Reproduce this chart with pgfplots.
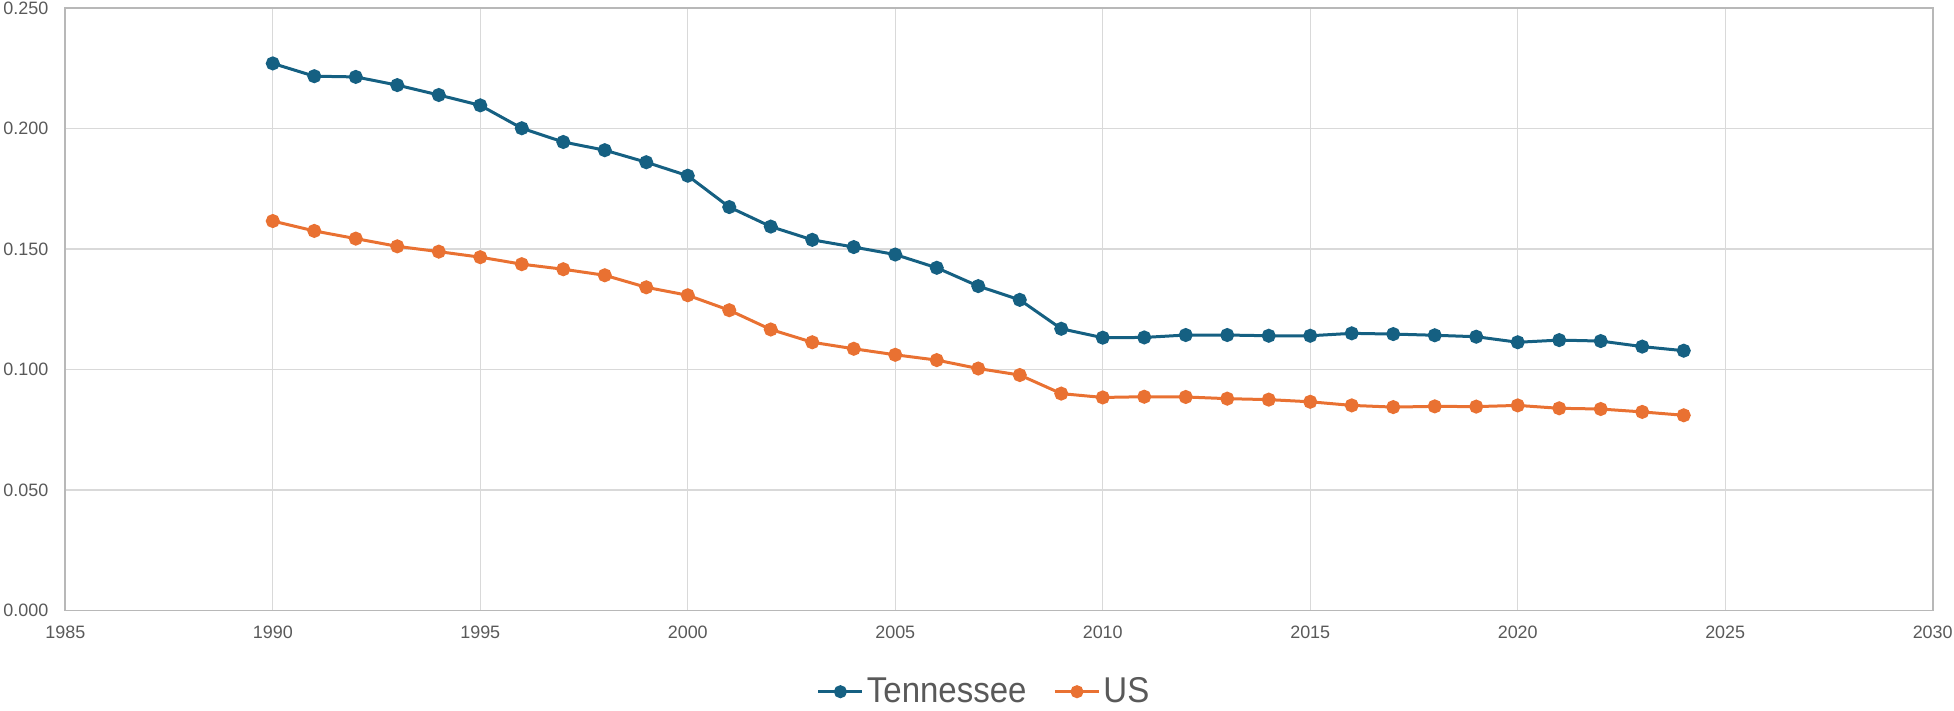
\documentclass[border=0pt]{standalone}
\usepackage{fontspec}
\setmainfont{Liberation Sans}
\newfontfamily\legfont[FakeStretch=0.92]{Liberation Sans}
\usepackage{pgfplots}
\pgfplotsset{compat=1.18}
\definecolor{tn}{HTML}{156082}
\definecolor{us}{HTML}{E97132}
\definecolor{gridc}{HTML}{D9D9D9}
\definecolor{tickc}{HTML}{595959}
\begin{document}
\begin{tikzpicture}
\path[use as bounding box] (0,0) rectangle (977bp,355.5bp);
\begin{axis}[
  at={(32.65bp,50.25bp)}, anchor=south west,
  scale only axis, width=933.7bp, height=301.25bp,
  xmin=1985, xmax=2030, ymin=0, ymax=0.25,
  xtick={1985,1990,...,2030},
  ytick={0,0.05,...,0.25},
  grid=major,
  major grid style={color=gridc, line width=0.7bp},
  axis line style={color=gridc!85!black, line width=0.8bp},
  major tick length=0pt,
  /pgf/number format/assume math mode=true,
  x tick label style={/pgf/number format/1000 sep={}, font=\fontsize{9}{10}\selectfont, text=tickc, yshift=-4bp},
  y tick label style={/pgf/number format/fixed, /pgf/number format/fixed zerofill, /pgf/number format/precision=3, font=\fontsize{9}{10}\selectfont, text=tickc, xshift=-5bp},
  legend style={at={(0.4923,-0.1348)}, anchor=center, draw=none, fill=none,
    legend columns=2, font=\legfont\fontsize{18}{20}\selectfont, text=tickc,
    nodes={inner xsep=1.5bp},
    /tikz/every even column/.append style={column sep=12bp}},
  legend cell align=left,
  legend image code/.code={\draw[mark repeat=2,mark phase=2,#1,mark size=2.5bp] plot coordinates {(0bp,0bp) (11bp,0bp) (22bp,0bp)};},
]
\addplot[color=tn, line width=1.5bp, mark=*, mark size=2.75bp, mark options={solid, fill=tn}] coordinates {
(1990,0.2270) (1991,0.2217) (1992,0.2214) (1993,0.2180) (1994,0.2139) (1995,0.2096)
(1996,0.2001) (1997,0.1944) (1998,0.1910) (1999,0.1860) (2000,0.1804) (2001,0.1674)
(2002,0.1593) (2003,0.1538) (2004,0.1508) (2005,0.1477) (2006,0.1422) (2007,0.1346)
(2008,0.1289) (2009,0.1169) (2010,0.1132) (2011,0.1133) (2012,0.1143) (2013,0.1143)
(2014,0.1140) (2015,0.1140) (2016,0.1150) (2017,0.1147) (2018,0.1142) (2019,0.1136)
(2020,0.1113) (2021,0.1122) (2022,0.1118) (2023,0.1095) (2024,0.1078)
};
\addlegendentry{Tennessee}
\addplot[color=us, line width=1.5bp, mark=*, mark size=2.75bp, mark options={solid, fill=us}] coordinates {
(1990,0.1616) (1991,0.1575) (1992,0.1543) (1993,0.1511) (1994,0.1489) (1995,0.1466)
(1996,0.1437) (1997,0.1416) (1998,0.1391) (1999,0.1341) (2000,0.1308) (2001,0.1246)
(2002,0.1166) (2003,0.1113) (2004,0.1086) (2005,0.1061) (2006,0.1039) (2007,0.1004)
(2008,0.0977) (2009,0.0900) (2010,0.0884) (2011,0.0887) (2012,0.0886) (2013,0.0879)
(2014,0.0875) (2015,0.0866) (2016,0.0851) (2017,0.0844) (2018,0.0847) (2019,0.0846)
(2020,0.0851) (2021,0.0839) (2022,0.0836) (2023,0.0824) (2024,0.0810)
};
\addlegendentry{US}
\end{axis}
\end{tikzpicture}
\end{document}
